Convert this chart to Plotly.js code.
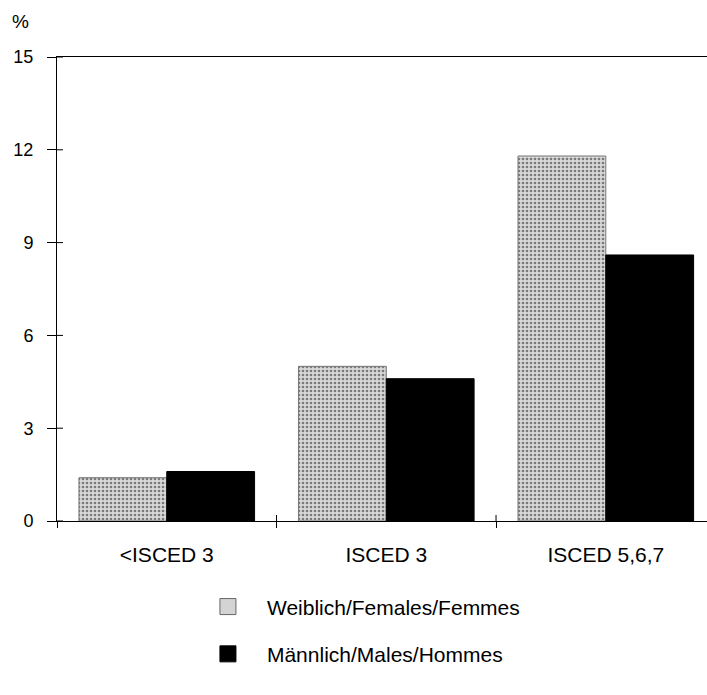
<!DOCTYPE html>
<html><head><meta charset="utf-8">
<script src="https://cdn.plot.ly/plotly-3.0.1.min.js"></script>
<style>body{margin:0;background:#fff}#c{width:707px;height:695px}</style>
</head><body><div id="c"></div>
<script>
const categories = ['<ISCED 3', 'ISCED 3', 'ISCED 5,6,7'];
const females = [1.4, 5.0, 11.8];
const males = [1.6, 4.6, 8.6];
const yTicks = [0, 3, 6, 9, 12, 15];
const seriesNames = ['Weiblich/Females/Femmes', 'Männlich/Males/Hommes'];

const font = {family: 'Liberation Sans, Arial, sans-serif', color: '#000'};
const xr = [-0.5, 2.461];
const femStyle = {color: '#cfcfcf', line: {color: '#777', width: 1},
  pattern: {shape: '.', fgcolor: '#7a7a7a', bgcolor: '#d8d8d8', size: 4, solidity: 0.35}};
const traces = [
  {type: 'bar', x: categories, y: females, name: seriesNames[0], showlegend: false,
   marker: femStyle, hoverinfo: 'skip'},
  {type: 'bar', x: categories, y: males, name: seriesNames[1], showlegend: false,
   marker: {color: '#000', line: {color: '#000', width: 1}}, hoverinfo: 'skip'},
  // legend entries (large square swatches)
  {type: 'scatter', mode: 'markers', x: [null], y: [null], name: seriesNames[0], legendgroup: 'f',
   marker: {symbol: 'square', size: 21, color: '#d4d4d4', line: {color: '#666', width: 1}}, hoverinfo: 'skip'},
  {type: 'scatter', mode: 'markers', x: [null], y: [null], name: seriesNames[1], legendgroup: 'm',
   marker: {symbol: 'square', size: 21, color: '#000', line: {color: '#000', width: 1}}, hoverinfo: 'skip'}
];
const shapes = [];
yTicks.forEach(v => shapes.push({type: 'line', xref: 'paper', yref: 'y', x0: 0, x1: 6 / 650, y0: v, y1: v,
  line: {color: '#000', width: 1}}));
categories.slice(1).forEach((c, i) => shapes.push({type: 'line', xref: 'x', yref: 'paper', x0: i + 0.5, x1: i + 0.5,
  y0: 0, y1: 6 / 464, line: {color: '#000', width: 1}}));
const layout = {
  width: 707, height: 695,
  margin: {l: 57, r: 0, t: 57, b: 174, autoexpand: false},
  paper_bgcolor: '#fff', plot_bgcolor: '#fff',
  font: font,
  barmode: 'group', bargap: 0.2, bargroupgap: 0,
  showlegend: true,
  legend: {x: 0.203, xanchor: 'left', y: -0.141, yanchor: 'top',
           font: {size: 21, family: font.family, color: '#000'}, tracegroupgap: 17,
           traceorder: 'grouped', itemsizing: 'trace', itemwidth: 68, bgcolor: 'rgba(0,0,0,0)'},
  xaxis: {type: 'category', categoryarray: categories, range: xr, showline: true, linecolor: '#000',
          linewidth: 1, mirror: true, ticks: 'outside', ticklen: 6, tickcolor: '#000', tickson: 'boundaries',
          showgrid: false, zeroline: false, tickfont: {size: 21}, ticklabelstandoff: 15, automargin: false},
  yaxis: {range: [0, 15], tickvals: yTicks, showline: true, linecolor: '#000', linewidth: 1,
          ticks: 'outside', ticklen: 9, tickcolor: '#000', showgrid: false, zeroline: false,
          tickfont: {size: 18}, ticklabelstandoff: 10, automargin: false},
  shapes: shapes,
  annotations: [{text: '%', xref: 'paper', yref: 'paper', x: -37 / 650, y: 1 + 35 / 464,
                 xanchor: 'center', yanchor: 'middle',
                 showarrow: false, font: {size: 19, family: font.family, color: '#000'}}]
};
Plotly.newPlot('c', traces, layout, {displayModeBar: false, staticPlot: true});
</script></body></html>
